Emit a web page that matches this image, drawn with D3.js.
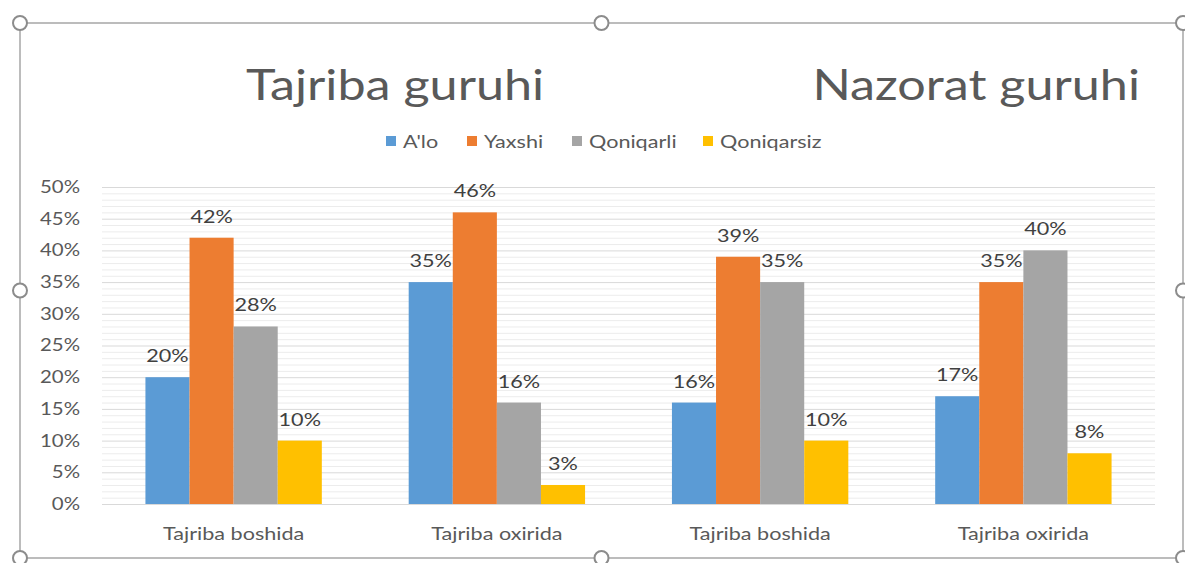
<!DOCTYPE html>
<html>
<head>
<meta charset="utf-8">
<script src="https://cdn.jsdelivr.net/npm/d3@7"></script>
<style>
  body { margin: 0; background: #fff; }
  svg { display: block; font-family: Lato, "Open Sans", sans-serif; }
</style>
</head>
<body>
<div id="chart"></div>
<script>
const categories = ['Tajriba boshida', 'Tajriba oxirida', 'Tajriba boshida', 'Tajriba oxirida'];
const series = ["A'lo", 'Yaxshi', 'Qoniqarli', 'Qoniqarsiz'];
const colors = ['#5b9bd5', '#ed7d31', '#a5a5a5', '#ffc000'];
const alo = [20, 35, 16, 17];
const yaxshi = [42, 46, 39, 35];
const qoniqarli = [28, 16, 35, 40];
const qoniqarsiz = [10, 3, 10, 8];
const yTicks = [0, 5, 10, 15, 20, 25, 30, 35, 40, 45, 50];
const titles = ['Tajriba guruhi', 'Nazorat guruhi'];

const values = [alo, yaxshi, qoniqarli, qoniqarsiz];
const data = categories.map((c, i) => ({ i, c, vals: series.map((s, j) => ({ s, j, v: values[j][i] })) }));

const width = 1185, height = 563;
const stretch = 1.2; // text in the picture is wider than Lato
const svg = d3.select('#chart').append('svg').attr('width', width).attr('height', height);

// selection frame
const frame = { x0: 20, y0: 23, x1: 1183, y1: 558 };
svg.append('rect')
  .attr('x', frame.x0).attr('y', frame.y0)
  .attr('width', frame.x1 - frame.x0).attr('height', frame.y1 - frame.y0)
  .attr('fill', 'none').attr('stroke', '#a6a6a6').attr('stroke-width', 1.5);

const plot = { left: 102, right: 1155, top: 187, bottom: 504 };
const x = d3.scaleBand().domain(d3.range(categories.length)).range([plot.left, plot.right]).paddingInner(0.33).paddingOuter(0.165);
const xs = d3.scaleBand().domain(d3.range(series.length)).range([0, x.bandwidth()]);
const y = d3.scaleLinear().domain([0, 50]).range([plot.bottom, plot.top]);

// minor grid
const minor = d3.range(0, 51).filter(v => v % 5 !== 0);
svg.append('g').selectAll('line').data(minor).join('line')
  .attr('x1', plot.left).attr('x2', plot.right)
  .attr('y1', d => y(d) + 0.5).attr('y2', d => y(d) + 0.5)
  .attr('stroke', '#ececec').attr('stroke-width', 1);

// major grid
svg.append('g').selectAll('line').data(yTicks).join('line')
  .attr('x1', plot.left).attr('x2', plot.right)
  .attr('y1', d => y(d) + 0.5).attr('y2', d => y(d) + 0.5)
  .attr('stroke', '#d9d9d9').attr('stroke-width', 1);

// y axis
const yAxis = svg.append('g').attr('transform', `translate(${plot.left - 22},0)`)
  .call(d3.axisLeft(y).tickValues(yTicks).tickFormat(d => d + '%').tickSize(0).tickPadding(0));
yAxis.select('.domain').remove();
yAxis.selectAll('text').attr('fill', '#595959').attr('transform', `scale(${stretch},1)`)
  .style('font-size', '17px').style('font-family', 'Lato, sans-serif');

// x axis
const xAxis = svg.append('g').attr('transform', `translate(0,${plot.bottom})`)
  .call(d3.axisBottom(x).tickFormat(i => categories[i]).tickSize(0).tickPadding(23));
xAxis.select('.domain').remove();
xAxis.selectAll('text').attr('fill', '#595959').attr('transform', `scale(${stretch},1)`)
  .style('font-size', '18px').style('font-family', 'Lato, sans-serif');

// bars
const groups = svg.append('g').selectAll('g').data(data).join('g')
  .attr('transform', d => `translate(${x(d.i)},0)`);
groups.selectAll('rect').data(d => d.vals).join('rect')
  .attr('x', d => xs(d.j)).attr('width', xs.bandwidth())
  .attr('y', d => y(d.v)).attr('height', d => y(0) - y(d.v))
  .attr('fill', d => colors[d.j]);
groups.selectAll('text').data(d => d.vals).join('text')
  .attr('transform', d => `translate(${xs(d.j) + xs.bandwidth() / 2},${y(d.v) - 15}) scale(${stretch},1)`)
  .attr('text-anchor', 'middle')
  .attr('fill', '#404040').style('font-size', '18px')
  .text(d => d.v + '%');

// legend
const legendX = [386, 467, 572, 703];
const legend = svg.append('g').selectAll('g').data(series).join('g')
  .attr('transform', (d, i) => `translate(${legendX[i]},141)`);
legend.append('rect').attr('x', 0).attr('y', -5).attr('width', 10).attr('height', 10).attr('fill', (d, i) => colors[i]);
legend.append('text').attr('transform', `translate(17,7) scale(${stretch},1)`)
  .attr('fill', '#595959').style('font-size', '18px').text(d => d);

// titles
svg.append('text').attr('transform', `translate(246,100) scale(1.17,1)`)
  .attr('fill', '#595959').style('font-size', '43px').text(titles[0]);
svg.append('text').attr('transform', `translate(1140,100) scale(1.17,1)`)
  .attr('text-anchor', 'end').attr('fill', '#595959').style('font-size', '43px').text(titles[1]);

// handles
const hx = [frame.x0, (frame.x0 + frame.x1) / 2, frame.x1];
const hy = [frame.y0, (frame.y0 + frame.y1) / 2, frame.y1];
const handles = [];
hx.forEach((a, i) => hy.forEach((b, j) => { if (!(i === 1 && j === 1)) handles.push([a, b]); }));
svg.append('g').selectAll('circle').data(handles).join('circle')
  .attr('cx', d => d[0]).attr('cy', d => d[1]).attr('r', 7)
  .attr('fill', '#fff').attr('stroke', '#8c8c8c').attr('stroke-width', 2);
</script>
</body>
</html>
